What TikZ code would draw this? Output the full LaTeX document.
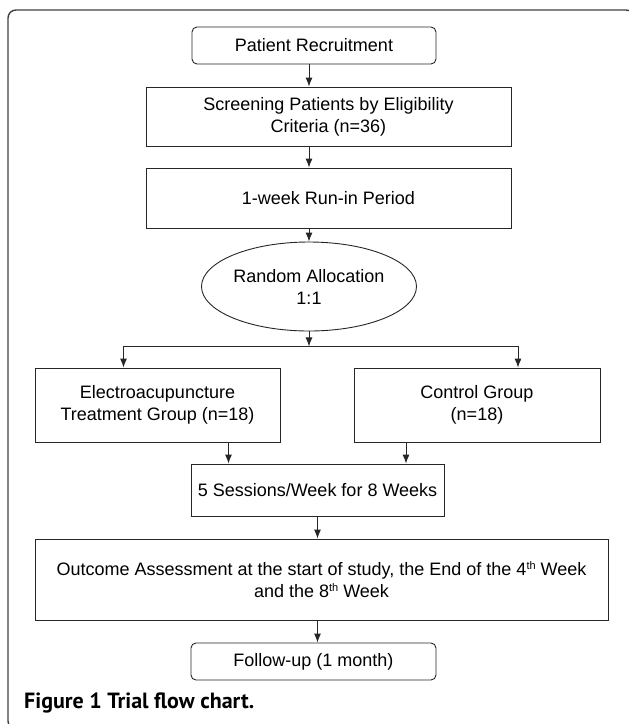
\documentclass[tikz,border=0pt]{standalone}
\usepackage{fontspec}
\setmainfont{Liberation Sans}
\newfontfamily\capfont{PT Sans}
\newcommand{\ordsup}[1]{\raisebox{0.62ex}{\fontsize{11}{11}\selectfont #1}}
\usetikzlibrary{arrows.meta}
\usetikzlibrary{shapes.geometric}
\usetikzlibrary{positioning}

\begin{document}
\begin{tikzpicture}[x=1pt, y=-1pt,
  every node/.style = {align=center, inner sep=0pt, text=black,
    font=\fontsize{18}{22}\selectfont},
  stepbox/.style = {draw=black!85, line width=0.9pt},
  endbox/.style = {stepbox, rounded corners=5pt},
  conn/.style = {draw=black!85, line width=0.9pt, -{Latex[length=9pt,width=7pt]}}]
  \useasboundingbox (0,0) rectangle (629,724);
  \draw[black!75, line width=1.4pt, rounded corners=8pt] (8,10) rectangle (634,729);
  \node[endbox, minimum width=244, minimum height=37] (rec) at (314,45.5) {Patient Recruitment};
  \node[stepbox, minimum width=365, minimum height=59] (screen) at (328.5,116.5)
    {Screening Patients by Eligibility\\Criteria (n=36)};
  \node[stepbox, minimum width=365, minimum height=60] (runin) at (328.5,198) {1-week Run-in Period};
  \node[stepbox, ellipse, minimum width=215, minimum height=89] (rand) at (309,286.5)
    {Random Allocation\\1:1};
  \node[stepbox, minimum width=245, minimum height=74] (treat) at (157.5,405)
    {Electroacupuncture\\Treatment Group (n=18)};
  \node[stepbox, minimum width=246, minimum height=74] (ctrl) at (477,405)
    {Control Group\\(n=18)};
  \node[stepbox, minimum width=253, minimum height=52] (sess) at (317.5,490)
    {5 Sessions/Week for 8 Weeks};
  \node[stepbox, minimum width=573, minimum height=81] (outc) at (321.5,579.5)
    {Outcome Assessment at the start of study, the End of the 4\ordsup{th} Week\\
     and the 8\ordsup{th} Week};
  \node[endbox, minimum width=245, minimum height=37] (fup) at (313.5,661.5) {Follow-up (1 month)};
  \node[anchor=base west, font=\capfont\bfseries\fontsize{22}{24}\selectfont] (cap) at (24,708)
    {Figure 1 Trial flow chart.};
  \coordinate[below=15pt of rand] (split);
  \coordinate (lbr) at ([xshift=-34pt]treat.north |- split);
  \coordinate (rbr) at ([xshift=41pt]ctrl.north |- split);
  \path [conn] (rec.south -| rand) -- (screen.north -| rand);
  \path [conn] (screen.south -| rand) -- (runin.north -| rand);
  \path [conn] (runin.south -| rand) -- (rand.north);
  \path [conn] (rand.south) -- (split);
  \path [draw, black!85, line width=0.9pt] (lbr) -- (rbr);
  \path [conn] (lbr) -- (lbr |- treat.north);
  \path [conn] (rbr) -- (rbr |- ctrl.north);
  \path [conn] ([xshift=71pt]treat.south) -- ([xshift=71pt]treat.south |- sess.north);
  \path [conn] ([xshift=-71pt]ctrl.south) -- ([xshift=-71pt]ctrl.south |- sess.north);
  \path [conn] (sess.south) -- (outc.north -| sess);
  \path [conn] (outc.south -| sess) -- (fup.north -| sess);
\end{tikzpicture}
\end{document}
